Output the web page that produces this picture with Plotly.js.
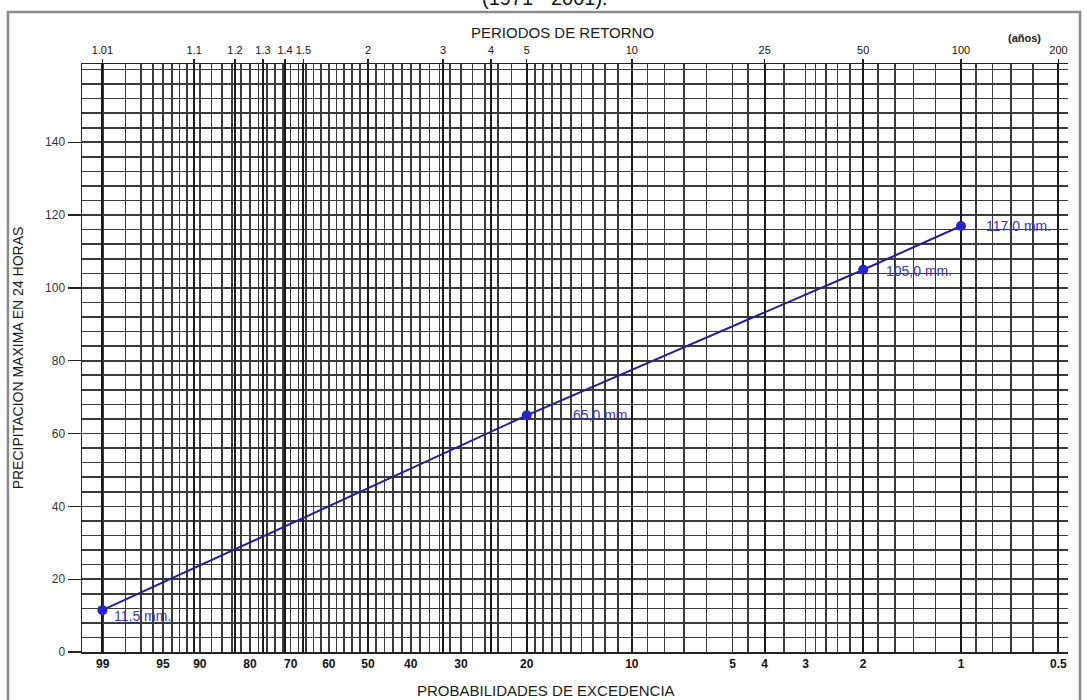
<!DOCTYPE html>
<html>
<head>
<meta charset="utf-8">
<script src="https://cdn.plot.ly/plotly-3.0.1.min.js"></script>
<style>
  html, body { margin: 0; padding: 0; background: #ffffff; }
  #chart { width: 1087px; height: 700px; }
</style>
</head>
<body>
<div id="chart"></div>
<script>
// ---- data ----
const returnPeriods = [1.01, 1.1, 1.2, 1.3, 1.4, 1.5, 2, 3, 4, 5, 10, 25, 50, 100, 200];
const returnLabels  = ["1.01", "1.1", "1.2", "1.3", "1.4", "1.5", "2", "3", "4", "5", "10", "25", "50", "100", "200"];

const exceedProb    = [99, 95, 90, 80, 70, 60, 50, 40, 30, 20, 10, 5, 4, 3, 2, 1, 0.5];
const exceedLabels  = ["99", "95", "90", "80", "70", "60", "50", "40", "30", "20", "10", "5", "4", "3", "2", "1", "0.5"];

// non-exceedance probabilities at which the Gumbel paper has vertical rulings
const gridProb = [
  0.01, 0.02, 0.03, 0.04, 0.05, 0.06, 0.07, 0.08, 0.09, 0.10,
  0.12, 0.14, 0.16, 0.18, 0.20, 0.22, 0.24, 0.26, 0.28, 0.30,
  0.32, 0.34, 0.36, 0.38, 0.40, 0.42, 0.44, 0.46, 0.48, 0.50,
  0.52, 0.54, 0.56, 0.58, 0.60, 0.62, 0.64, 0.66, 0.68, 0.70,
  0.72, 0.74, 0.76, 0.78, 0.80, 0.81, 0.82, 0.83, 0.84, 0.85,
  0.86, 0.87, 0.88, 0.89, 0.90, 0.91, 0.92, 0.93, 0.94, 0.95,
  0.955, 0.96, 0.965, 0.97, 0.972, 0.974, 0.976, 0.978, 0.98,
  0.982, 0.984, 0.986, 0.988, 0.99, 0.991, 0.992, 0.993, 0.994, 0.995
];

const yTickVals = [0, 20, 40, 60, 80, 100, 120, 140];

const pointReturn = [1.01, 5, 50, 100];
const pointPrecip = [11.5, 65.0, 105.0, 117.0];
const pointLabels = ["11,5 mm.", "65,0 mm.", "105,0 mm.", "117,0 mm."];

// ---- Gumbel reduced-variate scale ----
const gumbelF = F => -Math.log(-Math.log(F));
const gumbelT = T => gumbelF(1 - 1 / T);
const gumbelExc = p => gumbelF(1 - p / 100);

const xRange = [-1.675, 5.364];
const gridCol = "#3a3a3a";
const fontFam = "Liberation Sans, Arial, sans-serif";

const lineX = pointReturn.map(gumbelT);

const traces = [
  {
    x: lineX, y: pointPrecip, xaxis: "x2", yaxis: "y",
    type: "scatter", mode: "lines+markers",
    line: { color: "#23208f", width: 2 },
    marker: { color: "#2622cc", size: 10 },
    hoverinfo: "skip", showlegend: false
  },
  {
    x: exceedProb.map(gumbelExc), y: exceedProb.map(() => null), xaxis: "x", yaxis: "y",
    type: "scatter", mode: "markers", marker: { opacity: 0 },
    hoverinfo: "skip", showlegend: false
  }
];

const labelShift = [[10, -6], [44, 0], [21, -1], [23, 0]];
const annotations = pointLabels.map((t, i) => ({
  x: lineX[i], y: pointPrecip[i], xref: "x2", yref: "y",
  text: t, showarrow: false, xanchor: "left", yanchor: "middle",
  xshift: labelShift[i][0], yshift: labelShift[i][1],
  font: { family: fontFam, size: 14, color: "#3b34c8" }
}));

annotations.push(
  { text: "PERIODOS DE RETORNO", xref: "paper", yref: "paper", x: 0.487, y: 1.054,
    xanchor: "center", yanchor: "middle", showarrow: false,
    font: { family: fontFam, size: 15, color: "#1a1a1a" } },
  { text: "(años)", xref: "paper", yref: "paper", x: 0.956, y: 1.044,
    xanchor: "center", yanchor: "middle", showarrow: false,
    font: { family: fontFam, size: 11, color: "#1a1a1a", weight: "bold" } },
  { text: "PROBABILIDADES DE EXCEDENCIA", xref: "paper", yref: "paper", x: 0.471, y: -0.065,
    xanchor: "center", yanchor: "middle", showarrow: false,
    font: { family: fontFam, size: 15, color: "#1a1a1a" } },
  { text: "(1971 - 2001).", xref: "paper", yref: "paper", x: 0.4696, y: 1.09,
    xanchor: "center", yanchor: "bottom", showarrow: false,
    font: { family: fontFam, size: 20, color: "#111111" } }
);

const layout = {
  width: 1087, height: 700,
  margin: { l: 82, r: 19, t: 64, b: 48 },
  paper_bgcolor: "#ffffff", plot_bgcolor: "#ffffff",
  showlegend: false,
  xaxis: {
    range: xRange, side: "bottom",
    tickmode: "array", tickvals: exceedProb.map(gumbelExc), ticktext: exceedLabels,
    tickangle: 0,
    ticks: "", showgrid: true, gridcolor: gridCol, gridwidth: 1.6,
    minor: { tickmode: "array", tickvals: gridProb.map(gumbelF), showgrid: true, gridcolor: gridCol, gridwidth: 1.6, ticks: "" },
    showline: true, linecolor: "#222", linewidth: 1.5,
    zeroline: false,
    tickfont: { family: fontFam, size: 12, color: "#111", weight: "bold" }
  },
  xaxis2: {
    range: xRange, overlaying: "x", side: "top",
    tickmode: "array", tickvals: returnPeriods.map(gumbelT), ticktext: returnLabels,
    tickangle: 0,
    ticks: "outside", ticklen: 4, tickwidth: 1.5, tickcolor: "#222",
    showgrid: true, gridcolor: "#1a1a1a", gridwidth: 2,
    showline: true, linecolor: "#222", linewidth: 1.5,
    zeroline: false,
    tickfont: { family: fontFam, size: 11, color: "#111" }
  },
  yaxis: {
    range: [0, 161.5],
    tickmode: "array", tickvals: yTickVals,
    ticks: "outside", ticklen: 13, tickwidth: 1.3, tickcolor: "#222",
    showgrid: true, gridcolor: gridCol, gridwidth: 1.6,
    minor: { dtick: 4, tick0: 0, showgrid: true, gridcolor: gridCol, gridwidth: 1.6, ticks: "" },
    showline: true, linecolor: "#222", linewidth: 1.5,
    zeroline: false,
    tickfont: { family: fontFam, size: 12, color: "#333" },
    title: { text: "PRECIPITACION MAXIMA EN 24 HORAS", standoff: 18,
             font: { family: fontFam, size: 14, color: "#1a1a1a" } }
  },
  annotations: annotations,
  shapes: [
    { type: "rect", xref: "paper", yref: "paper",
      x0: -0.0751, x1: 1.0122, y0: -0.09, y1: 1.0884,
      line: { color: "#8a8a8a", width: 2.5 }, fillcolor: "rgba(0,0,0,0)", layer: "below" }
  ]
};

Plotly.newPlot("chart", traces, layout, { displayModeBar: false, staticPlot: true });
</script>
</body>
</html>
